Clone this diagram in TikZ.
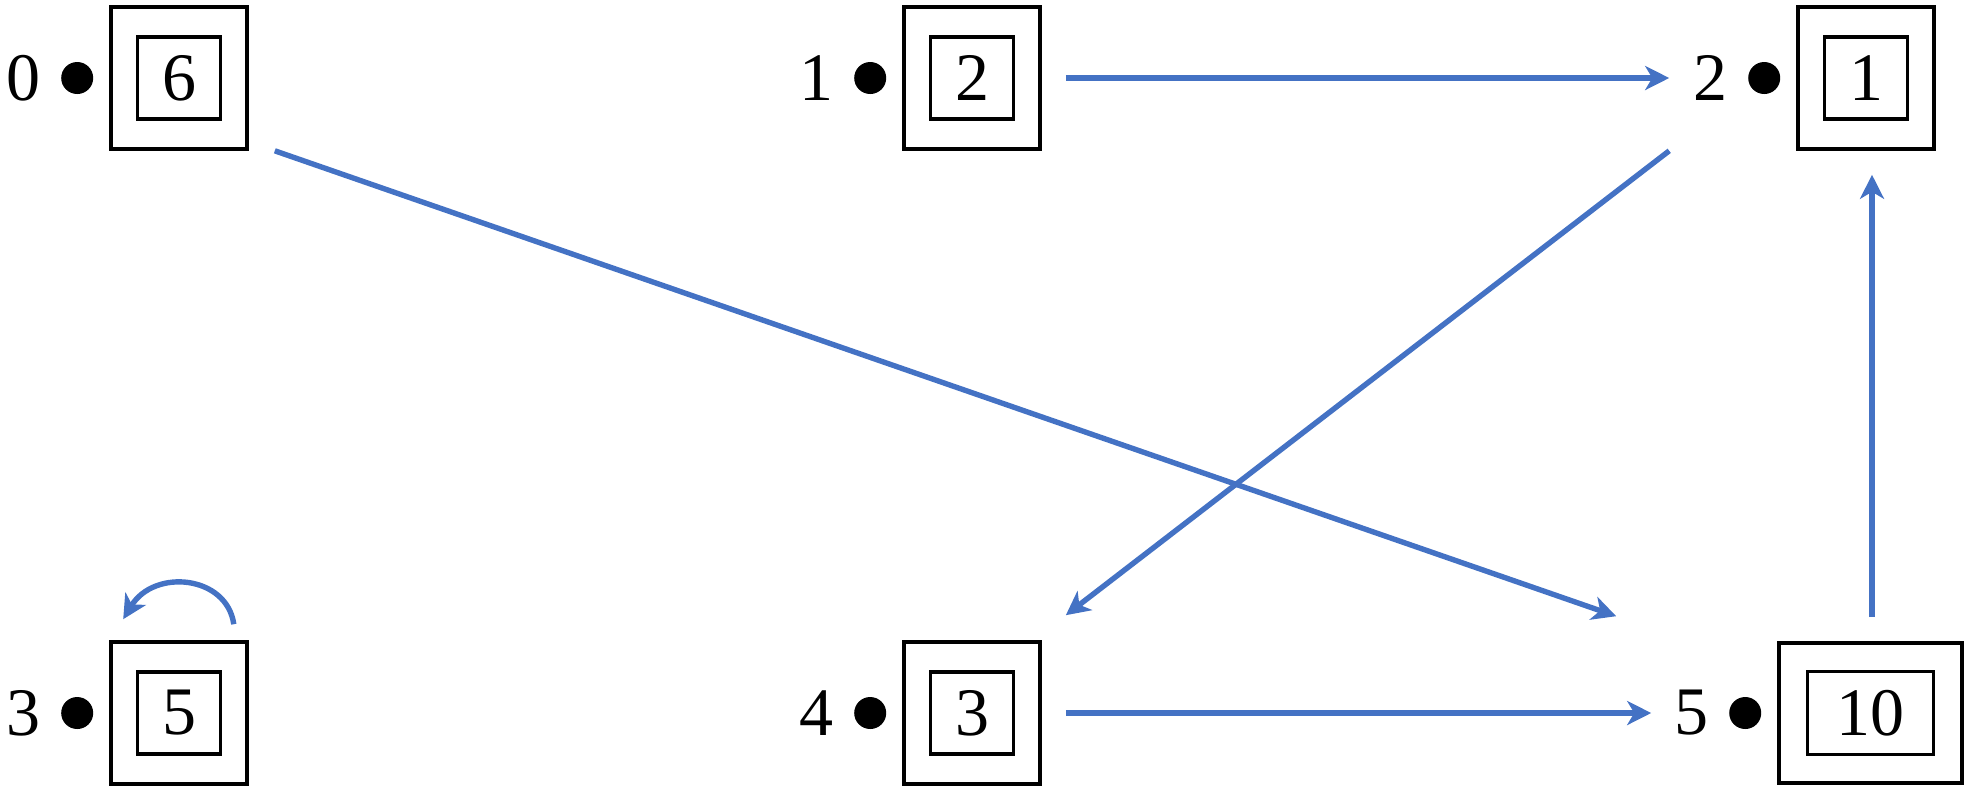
\documentclass[tikz,border=0pt]{standalone}
\usepackage{fontspec}
\setmainfont{Liberation Serif}
\usetikzlibrary{arrows.meta,calc}
\definecolor{myblue}{HTML}{4472C4}
\tikzset{
  outerbox/.style={draw, line width=1.8pt, minimum width=68pt, minimum height=71pt, inner sep=0pt},
  innerbox/.style={draw, line width=1.8pt, minimum width=41.5pt, minimum height=41pt, inner sep=0pt},
  wideouter/.style={outerbox, minimum width=91.5pt, minimum height=70pt},
  wideinner/.style={innerbox, minimum width=63pt, minimum height=41.5pt},
  dotnode/.style={circle, fill=black, inner sep=0pt, minimum size=16pt},
  labnode/.style={anchor=east, inner sep=0pt},
  conn/.style={draw=myblue, line width=2.7pt, -{Stealth[length=12pt,width=12pt,inset=3.5pt]}}
}
\begin{document}
\begin{tikzpicture}[x=0.5pt,y=-0.5pt,font=\fontsize{34}{41}\selectfont]
\useasboundingbox (0,0) rectangle (1968,789);
% node 0
\node[outerbox] (o0) at (179,78) {};
\node[innerbox] (i0) at (o0) {6};
\node[dotnode] (d0) at ($(o0.west)+(-32,0)$) {};
\node[labnode] (l0) at ($(d0.west)+(-20,0)$) {0};
% node 1
\node[outerbox] (o1) at (972,78) {};
\node[innerbox] (i1) at (o1) {2};
\node[dotnode] (d1) at ($(o1.west)+(-32,0)$) {};
\node[labnode] (l1) at ($(d1.west)+(-20,0)$) {1};
% node 2
\node[outerbox] (o2) at (1866,78) {};
\node[innerbox] (i2) at (o2) {1};
\node[dotnode] (d2) at ($(o2.west)+(-32,0)$) {};
\node[labnode] (l2) at ($(d2.west)+(-20,0)$) {2};
% node 3
\node[outerbox] (o3) at (179,713) {};
\node[innerbox] (i3) at (o3) {5};
\node[dotnode] (d3) at ($(o3.west)+(-32,0)$) {};
\node[labnode] (l3) at ($(d3.west)+(-20,0)$) {3};
% node 4
\node[outerbox] (o4) at (972,713) {};
\node[innerbox] (i4) at (o4) {3};
\node[dotnode] (d4) at ($(o4.west)+(-32,0)$) {};
\node[labnode] (l4) at ($(d4.west)+(-20,0)$) {4};
% node 5
\node[wideouter] (o5) at (1870.5,713) {};
\node[wideinner] (i5) at (o5) {10};
\node[dotnode] (d5) at ($(o5.west)+(-32,0)$) {};
\node[labnode] (l5) at ($(d5.west)+(-20,0)$) {5};
% connectors
\draw[conn] ($(o0.south east)+(26,0)$) -- ($(o5.north west)+(-161,-25)$);
\draw[conn] ($(o1.east)+(24,0)$) -- ($(o2.west)+(-127,0)$);
\draw[conn] ($(o4.east)+(24,0)$) -- ($(o5.west)+(-126,0)$);
\draw[conn] ($(o2.south west)+(-127,0)$) -- ($(o4.north east)+(24,-25)$);
\draw[conn] ($(o5.north)+(1.5,-24)$) -- ($(o5.north |- o2.south)+(1.5,24)$);
\draw[conn] ($(o3.north east)+(-15,-16)$) .. controls ($(o3.north east)+(-22,-65)$) and ($(o3.north west)+(45,-72)$) .. ($(o3.north west)+(14,-21)$);
\end{tikzpicture}
\end{document}
